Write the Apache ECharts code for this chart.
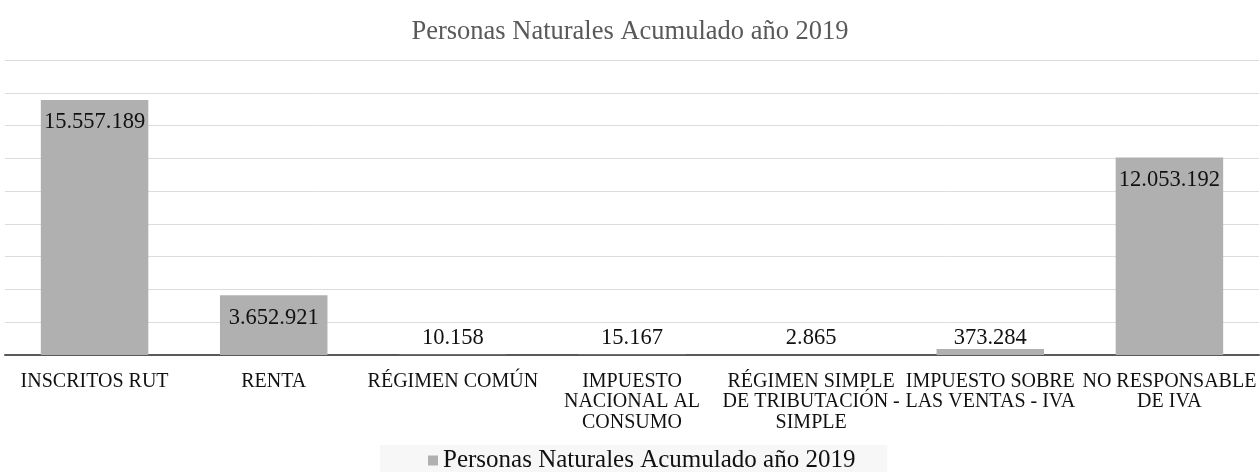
<!DOCTYPE html>
<html>
<head>
<meta charset="utf-8">
<script src="https://cdn.jsdelivr.net/npm/echarts@6/dist/echarts.min.js"></script>
<style>
html,body{margin:0;padding:0;background:#fff;}
#chart{width:1260px;height:472px;}
</style>
</head>
<body>
<div id="chart"></div>
<script>
const titleText = 'Personas Naturales Acumulado año 2019';
const seriesName = 'Personas Naturales Acumulado año 2019';
const categories = [
  'INSCRITOS RUT',
  'RENTA',
  'RÉGIMEN COMÚN',
  'IMPUESTO\nNACIONAL AL\nCONSUMO',
  'RÉGIMEN SIMPLE\nDE TRIBUTACIÓN -\nSIMPLE',
  'IMPUESTO SOBRE\nLAS VENTAS - IVA',
  'NO RESPONSABLE\nDE IVA'
];
const values = [15557189, 3652921, 10158, 15167, 2865, 373284, 12053192];
const yMin = 0, yMax = 18000000, yInterval = 2000000;

const FONT = "'Liberation Serif', 'Times New Roman', serif";
function fmt(v){ return String(v).replace(/\B(?=(\d{3})+(?!\d))/g, '.'); }

const chart = echarts.init(document.getElementById('chart'));
chart.setOption({
  animation: false,
  title: {
    text: titleText, left: 'center', top: 14,
    textStyle: { fontFamily: FONT, fontSize: 26.5, fontWeight: 'normal', color: '#595959' }
  },
  legend: {
    top: 445, left: 380,
    itemWidth: 10, itemHeight: 10, itemGap: 10,
    backgroundColor: '#f7f7f7',
    padding: [3, 32, 0, 48],
    icon: 'rect',
    textStyle: { fontFamily: FONT, fontSize: 25, color: '#111' },
    data: [seriesName]
  },
  grid: { left: 5, right: 1, top: 60, bottom: 117, containLabel: false },
  xAxis: {
    type: 'category', data: categories,
    axisLine: { lineStyle: { color: '#595959', width: 2 } },
    axisTick: { show: false },
    axisLabel: {
      interval: 0, margin: 16,
      fontFamily: FONT, fontSize: 20, color: '#111', lineHeight: 20.5, align: 'center'
    }
  },
  yAxis: {
    type: 'value', min: yMin, max: yMax, interval: yInterval,
    axisLabel: { show: false }, axisLine: { show: false }, axisTick: { show: false },
    splitLine: { lineStyle: { color: '#dcdcdc', width: 1 } }
  },
  series: [{
    name: seriesName, type: 'bar', barWidth: '60%',
    itemStyle: { color: '#b0b0b0' },
    data: values.map(v => ({
      value: v,
      label: { position: v > 1000000 ? 'insideTop' : 'insideBottom', distance: v > 1000000 ? 11 : 5 }
    })),
    label: {
      show: true, fontFamily: FONT, fontSize: 22.5, color: '#111',
      formatter: p => fmt(p.value)
    }
  }]
});
</script>
</body>
</html>
